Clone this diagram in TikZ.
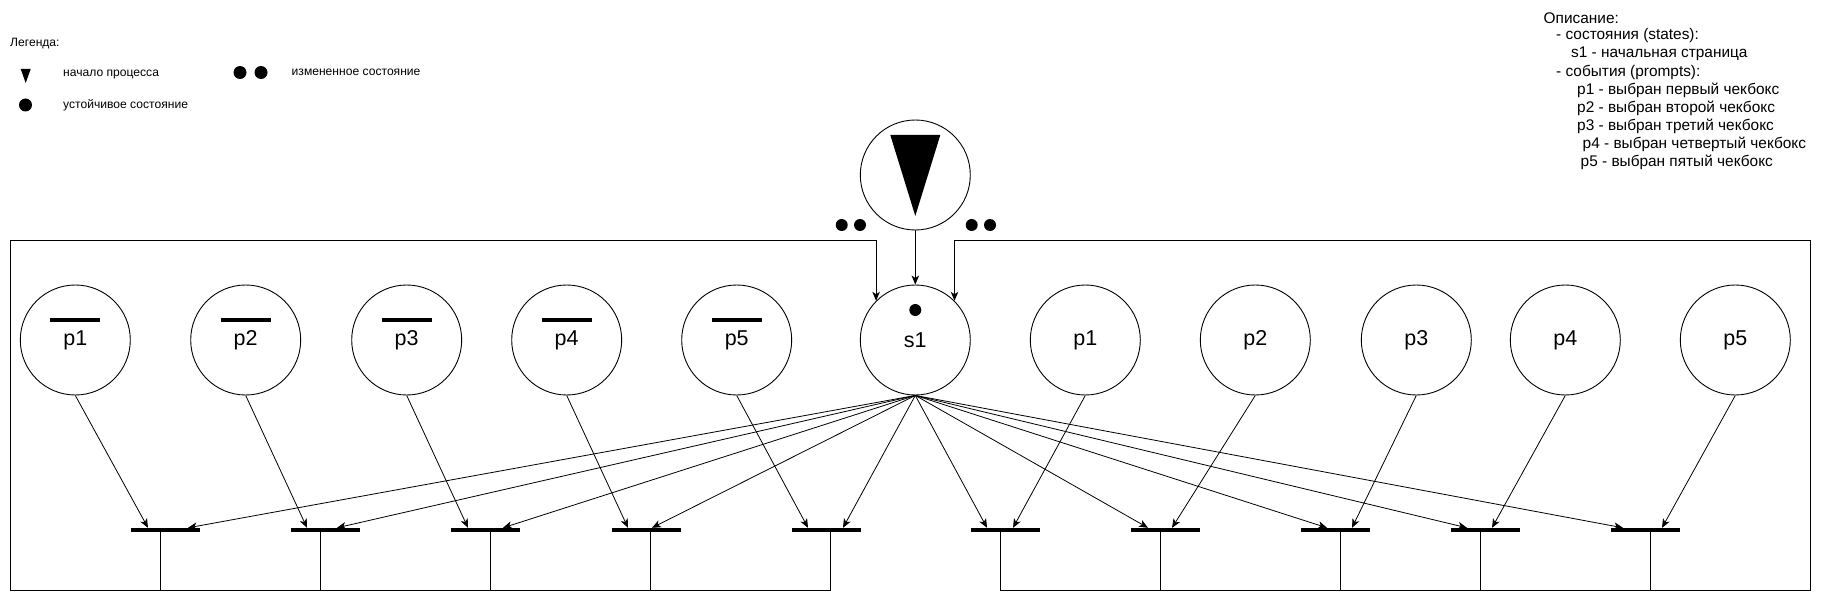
\documentclass[tikz,border=0pt]{standalone}
\usepackage{fontspec}
\setmainfont{Liberation Sans}
\usetikzlibrary{arrows.meta,calc}
\begin{document}
\begin{tikzpicture}[x=1pt,y=-1pt,
  place/.style={circle,draw,line width=0.9pt,minimum size=110pt,inner sep=0pt,font=\fontsize{21.5}{24}\selectfont},
  trans/.style={rectangle,fill=black,minimum width=69.3pt,minimum height=4pt,inner sep=0pt,anchor=west},
  arc/.style={line width=0.8pt,-{Stealth[length=9pt,width=7.5pt,inset=2.5pt]}},
  wire/.style={line width=0.9pt},
  token/.style={circle,fill=black,minimum size=12pt,inner sep=0pt},
  negbar/.style={line width=3.6pt},
  legtext/.style={anchor=west,inner sep=0pt,font=\fontsize{12.1}{14}\selectfont},
  desctext/.style={anchor=west,inner sep=0pt,font=\fontsize{15.4}{18}\selectfont}]
\useasboundingbox (0,0) rectangle (1821,599);

% legend
\node[legtext] (lg) at (10,44) {Легенда:};
\fill (20.7,69) -- (30.7,69) -- (25.7,83) -- cycle;
\node[legtext] (lg1) at (63,75) {начало процесса};
\node[token,minimum size=13pt] (lgd) at (25.5,105) {};
\node[legtext] (lg2) at (63,105) {устойчивое состояние};
\node[token,minimum size=13pt] (lga) at (240,72.5) {};
\node[token,minimum size=13pt] (lgb) at (261,72.5) {};
\node[legtext] (lg3) at (291.5,72.5) {измененное состояние};

% description
\node[desctext] (d1) at (1543.5,18) {Описание:};
\node[desctext] (d2) at (1556,36) {- состояния (states):};
\node[desctext] (d3) at (1571,54.1) {s1 - начальная страница};
\node[desctext] (d4) at (1556,72.1) {- события (prompts):};
\node[desctext] (d5) at (1577,90.2) {p1 - выбран первый чекбокс};
\node[desctext] (d6) at (1577,108.2) {p2 - выбран второй чекбокс};
\node[desctext] (d7) at (1577,126.3) {p3 - выбран третий чекбокс};
\node[desctext] (d8) at (1582.5,144.3) {p4 - выбран четвертый чекбокс};
\node[desctext] (d9) at (1580.5,162.4) {p5 - выбран пятый чекбокс};

% start place
\node[place] (start) at (915.3,175) {};
\fill (890.3,135) -- (940.3,135) -- (915.3,216) -- cycle;
\node[token] (ca1) at (841.7,225) {};
\node[token] (ca2) at (860,225) {};
\node[token] (cb1) at (971.7,225) {};
\node[token] (cb2) at (990,225) {};

% places
\node[place] (np1) at (75.3,340) {p1};
\node[place] (np2) at (245.7,340) {p2};
\node[place] (np3) at (406.7,340) {p3};
\node[place] (np4) at (566.7,340) {p4};
\node[place] (np5) at (736.7,340) {p5};
\node[place] (s1) at (915.3,340) {s1};
\node[place] (p1) at (1085.3,340) {p1};
\node[place] (p2) at (1255.3,340) {p2};
\node[place] (p3) at (1416.3,340) {p3};
\node[place] (p4) at (1565.3,340) {p4};
\node[place] (p5) at (1735.3,340) {p5};
\node[token] (s1tok) at (915.3,310) {};
\foreach \n in {np1,np2,np3,np4,np5}
  \draw[negbar] ($(\n.center)+(-25,-20)$) -- ++(50,0);

% transitions
\node[trans] (t1) at (130.7,530) {};
\node[trans] (t2) at (290.7,530) {};
\node[trans] (t3) at (450.7,530) {};
\node[trans] (t4) at (611.7,530) {};
\node[trans] (t5) at (791.7,530) {};
\node[trans] (t6) at (970.7,530) {};
\node[trans] (t7) at (1130.7,530) {};
\node[trans] (t8) at (1300.7,530) {};
\node[trans] (t9) at (1450.7,530) {};
\node[trans] (t10) at (1610.7,530) {};

% frame
\coordinate (fBL) at (10,590);
\coordinate (fTL) at (10,240);
\coordinate (fBR) at (1810,590);
\coordinate (fTR) at (1810,240);
\draw[arc] (start) -- (s1);
\draw[arc] ($(t5.west)+(39,0)$) |- (fBL) -- (fTL) -| (s1.north west);
\draw[arc] ($(t6.west)+(30,0)$) |- (fBR) -- (fTR) -| (s1.north east);
\foreach \t/\o in {t1/30,t2/30,t3/40,t4/39,t7/30,t8/40,t9/30,t10/40}
  \draw[wire] ($(\t.west)+(\o,0)$) -- ($(\t.west)+(\o,60)$);

% arcs from places
\foreach \n/\t/\d in {np1/t1/17.3,np2/t2/16.3,np3/t3/17.3,np4/t4/16.3,np5/t5/16.3,
                      p1/t6/42.3,p2/t7/41.3,p3/t8/51.3,p4/t9/41.3,p5/t10/51.3}
  \draw[arc] (\n.south) -- ($(\t.north west)+(\d,0)$);
% arcs from s1
\foreach \t/\d in {t1/57.3,t2/46.3,t3/52.3,t4/40.3,t5/51.3,t6/16.3,t7/17.3,t8/26.3,t9/16.3,t10/12.3}
  \draw[arc] (s1.south) -- ($(\t.north west)+(\d,0)$);
\end{tikzpicture}
\end{document}
